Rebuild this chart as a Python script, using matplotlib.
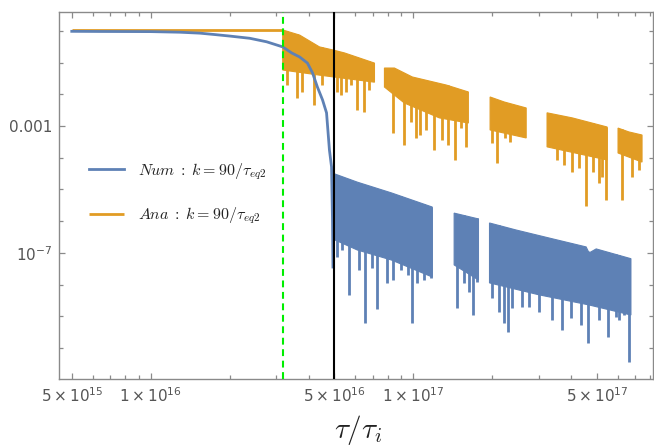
import numpy as np
import matplotlib
matplotlib.use("Agg")
import matplotlib.pyplot as plt
from matplotlib.ticker import FixedLocator, FixedFormatter, NullFormatter

BLUE = "#5e81b5"
ORANGE = "#e19c24"

# ---------------- data ----------------
# numerical solution: smooth part before the transition
num_curve_tau = [5.0e15, 6.4e15, 1.0e16, 1.29e16, 1.54e16, 1.75e16, 2.0e16, 2.38e16, 2.76e16,
                 3.18e16, 3.44e16, 3.69e16, 3.95e16, 4.13e16, 4.31e16, 4.51e16, 4.67e16,
                 4.79e16, 4.88e16, 4.92e16, 4.94e16]
num_curve = [0.96, 0.95, 0.94, 0.90, 0.84, 0.76, 0.68, 0.58, 0.45,
             0.31, 0.20, 0.149, 0.096, 0.047, 0.0169, 0.0066, 0.0026,
             1.75e-4, 5.1e-5, 1.1e-6, 3.6e-8]

# analytic solution: flat part
ana_flat_tau = [5.0e15, 3.18e16]
ana_flat = [1.06, 1.06]

# oscillating bands: upper envelope, lower edge of the dense body, spike minima
num_a_top_tau = [5.01e16, 6.12e16, 8.25e16, 1.18e17]
num_a_top = [3.1e-5, 1.7e-5, 7.8e-6, 2.8e-6]
num_a_body_tau = [5.01e16, 6.12e16, 8.25e16, 1.18e17]
num_a_body = [2.6e-7, 1.24e-7, 6.0e-8, 1.75e-8]
num_a_spike_tau = [5.14e16, 5.37e16, 5.71e16, 6.23e16, 6.57e16, 6.98e16, 7.30e16, 7.96e16, 8.40e16,
                   9.00e16, 9.57e16, 9.91e16, 1.035e17, 1.10e17, 1.17e17]
num_a_spike = [7.5e-8, 1.24e-7, 4.8e-9, 2.9e-8, 6.2e-10, 3.4e-8, 1.72e-9, 1.14e-8, 1.41e-8,
               2.9e-8, 2.0e-8, 6.2e-10, 1.14e-8, 1.41e-8, 1.63e-8]

num_b_top_tau = [1.43e17, 1.77e17]
num_b_top = [1.8e-6, 1.18e-6]
num_b_body_tau = [1.43e17, 1.77e17]
num_b_body = [4.2e-8, 1.41e-8]
num_b_spike_tau = [1.47e17, 1.56e17, 1.63e17, 1.68e17, 1.74e17]
num_b_spike = [1.85e-9, 1.14e-8, 5.9e-9, 1.11e-9, 1.22e-8]

num_c_top_tau = [1.95e17, 2.46e17, 3.38e17, 4.55e17, 4.67e17, 4.97e17, 6.74e17]
num_c_top = [8.8e-7, 5.3e-7, 2.8e-7, 1.55e-7, 1.0e-7, 1.34e-7, 6.6e-8]
num_c_body_tau = [1.95e17, 3.01e17, 4.67e17, 6.74e17]
num_c_body = [1.14e-8, 4.8e-9, 2.3e-9, 1.11e-9]
num_c_spike_tau = [2.00e17, 2.12e17, 2.22e17, 2.30e17, 2.38e17, 2.60e17, 2.76e17, 3.01e17, 3.38e17,
                   3.69e17, 3.99e17, 4.35e17, 4.63e17, 5.09e17, 5.51e17, 5.91e17, 6.07e17,
                   6.34e17, 6.62e17]
num_c_spike = [3.8e-9, 1.39e-9, 6.2e-10, 3.25e-10, 1.85e-9, 2.0e-9, 2.0e-9, 1.39e-9, 7.8e-10,
               3.8e-10, 9.0e-10, 5.4e-10, 1.46e-10, 7.8e-10, 2.26e-10, 9.6e-10, 7.8e-10,
               1.11e-9, 3.7e-11]

ana_a_top_tau = [3.18e16, 3.69e16, 4.39e16, 4.92e16, 5.47e16, 7.11e16]
ana_a_top = [1.06, 0.73, 0.31, 0.25, 0.20, 0.096]
ana_a_body_tau = [3.18e16, 4.39e16, 7.11e16]
ana_a_body = [0.058, 0.040, 0.024]
ana_a_spike_tau = [3.29e16, 3.59e16, 3.78e16, 4.20e16, 4.47e16, 5.10e16, 5.32e16, 5.56e16,
                   5.81e16, 6.12e16, 6.51e16, 6.80e16]
ana_a_spike = [0.0195, 0.0076, 0.0118, 0.0046, 0.0195, 0.0118, 0.0095, 0.0118,
               0.0195, 0.0032, 0.0028, 0.0136]

ana_b_top_tau = [7.76e16, 8.47e16, 9.91e16, 1.335e17, 1.62e17]
ana_b_top = [0.067, 0.067, 0.035, 0.0195, 0.0118]
ana_b_body_tau = [7.76e16, 9.24e16, 1.256e17, 1.62e17]
ana_b_body = [0.0169, 0.0053, 0.0018, 0.00124]
ana_b_spike_tau = [8.40e16, 9.24e16, 9.83e16, 1.026e17, 1.063e17, 1.12e17, 1.20e17, 1.29e17,
                   1.35e17, 1.445e17, 1.52e17, 1.58e17]
ana_b_spike = [6.0e-4, 2.5e-4, 1.34e-3, 4.2e-4, 5.2e-4, 7.5e-4, 1.75e-4, 3.6e-4,
               2.5e-4, 8.5e-5, 8.6e-4, 2.2e-4]

ana_c_top_tau = [1.96e17, 2.22e17, 2.69e17]
ana_c_top = [0.0082, 0.0057, 0.0037]
ana_c_body_tau = [1.96e17, 2.69e17]
ana_c_body = [7.5e-4, 4.2e-4]
ana_c_spike_tau = [2.00e17, 2.09e17, 2.24e17, 2.34e17, 2.51e17, 2.60e17]
ana_c_spike = [2.9e-4, 6.8e-5, 4.2e-4, 3.1e-4, 5.2e-4, 6.0e-4]

ana_d_top_tau = [3.23e17, 4.03e17, 5.47e17]
ana_d_top = [0.0026, 0.0018, 9.3e-4]
ana_d_body_tau = [3.23e17, 5.47e17]
ana_d_body = [2.2e-4, 8.5e-5]
ana_d_spike_tau = [3.53e17, 3.75e17, 4.03e17, 4.28e17, 4.55e17, 4.83e17, 5.09e17, 5.23e17, 5.42e17]
ana_d_spike = [8.5e-5, 5.9e-5, 3.6e-5, 4.8e-5, 3.0e-6, 3.6e-5, 1.6e-5, 2.5e-5, 4.7e-6]

ana_e_top_tau = [6.02e17, 6.62e17, 7.43e17]
ana_e_top = [8.6e-4, 6.5e-4, 5.2e-4]
ana_e_body_tau = [6.02e17, 7.43e17]
ana_e_body = [1.41e-4, 7.3e-5]
ana_e_spike_tau = [6.23e17, 6.80e17, 7.23e17]
ana_e_spike = [4.7e-6, 2.5e-5, 4.1e-5]

tau_transition = 3.18e16   # green dashed line
tau_mark = 5.0e16          # black line

x_major = [5e15, 1e16, 5e16, 1e17, 5e17]
x_major_labels = [r"$5\times10^{15}$", r"$1\times10^{16}$", r"$5\times10^{16}$",
                  r"$1\times10^{17}$", r"$5\times10^{17}$"]
x_minor = [6e15, 7e15, 8e15, 9e15, 2e16, 3e16, 4e16, 6e16, 7e16, 8e16, 9e16,
           2e17, 3e17, 4e17, 6e17, 7e17, 8e17]
y_major = [1e-7, 1e-3]
y_major_labels = [r"$10^{-7}$", "0.001"]
y_minor = [10.0 ** k for k in range(-11, 1) if k not in (-7, -3)]

legend_labels = [r"$Num\;:\;k = 90/\tau_{eq2}$", r"$Ana\;:\;k = 90/\tau_{eq2}$"]
x_label = r"$\tau/\tau_i$"

# ---------------- figure ----------------
W, H = 654, 448
fig = plt.figure(figsize=(W / 100, H / 100), dpi=100)
ax = fig.add_axes([59 / W, 1 - 379 / H, 594 / W, 367 / H])
ax.set_xscale("log")
ax.set_yscale("log")


def band(top_tau, top, body_tau, body, spike_tau, spike, color, z):
    xs = np.concatenate([top_tau, body_tau[::-1]])
    ys = np.concatenate([top, body[::-1]])
    ax.fill(xs, ys, color=color, lw=0.8, zorder=z)
    up = np.exp(np.interp(np.log(spike_tau), np.log(top_tau), np.log(top)))
    ax.vlines(spike_tau, spike, up, color=color, lw=2.0, zorder=z)


ana_line, = ax.plot(ana_flat_tau, ana_flat, color=ORANGE, lw=2.0, zorder=3,
                    solid_capstyle="butt")
for seg in [(ana_a_top_tau, ana_a_top, ana_a_body_tau, ana_a_body, ana_a_spike_tau, ana_a_spike),
            (ana_b_top_tau, ana_b_top, ana_b_body_tau, ana_b_body, ana_b_spike_tau, ana_b_spike),
            (ana_c_top_tau, ana_c_top, ana_c_body_tau, ana_c_body, ana_c_spike_tau, ana_c_spike),
            (ana_d_top_tau, ana_d_top, ana_d_body_tau, ana_d_body, ana_d_spike_tau, ana_d_spike),
            (ana_e_top_tau, ana_e_top, ana_e_body_tau, ana_e_body, ana_e_spike_tau, ana_e_spike)]:
    band(*[np.array(s) for s in seg], ORANGE, 3)

num_line, = ax.plot(num_curve_tau, num_curve, color=BLUE, lw=2.0, zorder=4)
for seg in [(num_a_top_tau, num_a_top, num_a_body_tau, num_a_body, num_a_spike_tau, num_a_spike),
            (num_b_top_tau, num_b_top, num_b_body_tau, num_b_body, num_b_spike_tau, num_b_spike),
            (num_c_top_tau, num_c_top, num_c_body_tau, num_c_body, num_c_spike_tau, num_c_spike)]:
    band(*[np.array(s) for s in seg], BLUE, 4)

ax.axvline(tau_transition, color="#00ee00", lw=1.5, dashes=(3.3, 2.2), zorder=6)
ax.axvline(tau_mark, color="black", lw=1.5, zorder=6)

ax.set_xlim(4.47e15, 8.18e17)
ax.set_ylim(1.07e-11, 3.9)

FRAME = "#8a8a8a"
TXT = "#555555"
for s in ax.spines.values():
    s.set_color(FRAME)
    s.set_linewidth(1.0)

ax.xaxis.set_major_locator(FixedLocator(x_major))
ax.xaxis.set_major_formatter(FixedFormatter(x_major_labels))
ax.xaxis.set_minor_locator(FixedLocator(x_minor))
ax.xaxis.set_minor_formatter(NullFormatter())
ax.yaxis.set_major_locator(FixedLocator(y_major))
ax.yaxis.set_major_formatter(FixedFormatter(y_major_labels))
ax.yaxis.set_minor_locator(FixedLocator(y_minor))
ax.yaxis.set_minor_formatter(NullFormatter())

ax.tick_params(which="both", direction="in", top=True, right=True, color=FRAME,
               labelcolor=TXT, labelsize=11, width=0.9)
ax.tick_params(which="major", length=4.5, pad=5)
ax.tick_params(which="minor", length=2.8)

leg = ax.legend([num_line, ana_line], legend_labels, loc="center left",
                bbox_to_anchor=(0.05, 0.505), frameon=False, fontsize=11.5,
                handlelength=2.2, handletextpad=0.9, labelspacing=1.5,
                borderpad=0, borderaxespad=0)
for t in leg.get_texts():
    t.set_math_fontfamily("cm")
    t.set_color("#222222")

fig.text(358 / W, 1 - 430 / H, x_label, fontsize=21, math_fontfamily="cm",
         ha="center", va="center", color="#222222")

fig.savefig("out.png", dpi=100)
